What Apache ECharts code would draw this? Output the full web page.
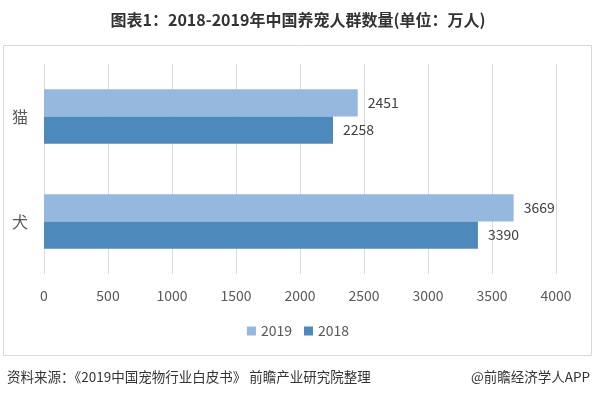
<!DOCTYPE html>
<html>
<head>
<meta charset="utf-8">
<script src="https://cdn.jsdelivr.net/npm/echarts@6/dist/echarts.min.js"></script>
<style>
  html, body { margin: 0; padding: 0; background: #fff; }
  #chart { width: 596px; height: 398px; }
</style>
</head>
<body>
<div id="chart"></div>
<script>
// 数据
const categories = ['猫', '犬'];
const seriesNames = ['2019', '2018'];
const values2019 = [2451, 3669];
const values2018 = [2258, 3390];
const xTicks = [0, 500, 1000, 1500, 2000, 2500, 3000, 3500, 4000];

const chart = echarts.init(document.getElementById('chart'));
const font = '"Microsoft YaHei", "Noto Sans CJK SC", sans-serif';

chart.setOption({
  backgroundColor: '#fff',
  animation: false,
  title: {
    text: '图表1：2018-2019年中国养宠人群数量(单位：万人)',
    left: 'center',
    top: 7,
    textStyle: { fontSize: 16, fontWeight: 'bold', color: '#333', fontFamily: font }
  },
  legend: {
    data: seriesNames,
    bottom: 55,
    left: 'center',
    itemWidth: 9,
    itemHeight: 9,
    itemGap: 12,
    icon: 'rect',
    textStyle: { fontSize: 14, color: '#595959', fontFamily: font }
  },
  grid: { left: 44, right: 40, top: 64, bottom: 124, containLabel: false },
  xAxis: {
    type: 'value',
    min: xTicks[0],
    max: xTicks[xTicks.length - 1],
    interval: 500,
    axisLine: { show: false },
    axisTick: { show: false },
    splitLine: { lineStyle: { color: '#d9d9d9' } },
    axisLabel: {
      fontSize: 14, color: '#595959', margin: 15, fontFamily: font,
      formatter: v => String(v)
    }
  },
  yAxis: {
    type: 'category',
    data: categories,
    inverse: true,
    axisLine: { show: false },
    axisTick: { show: false },
    axisLabel: { fontSize: 16, color: '#595959', margin: 16, fontFamily: font }
  },
  series: [
    {
      name: '2019',
      type: 'bar',
      data: values2019,
      barGap: '0%',
      barCategoryGap: '48%',
      itemStyle: { color: '#97b8de' },
      label: { show: true, position: 'right', distance: 10, fontSize: 14, color: '#404040', fontFamily: font }
    },
    {
      name: '2018',
      type: 'bar',
      data: values2018,
      barGap: '0%',
      barCategoryGap: '48%',
      itemStyle: { color: '#4e89bc' },
      label: { show: true, position: 'right', distance: 10, fontSize: 14, color: '#404040', fontFamily: font }
    }
  ],
  graphic: [
    {
      type: 'rect',
      shape: { x: 3.5, y: 45.5, width: 588, height: 310 },
      style: { fill: 'none', stroke: '#d9d9d9', lineWidth: 1 },
      z: -1
    },
    {
      type: 'text',
      left: 7,
      top: 370,
      style: { text: '资料来源：《2019中国宠物行业白皮书》 前瞻产业研究院整理', fontSize: 13.5, fill: '#333', fontFamily: font }
    },
    {
      type: 'text',
      right: 6,
      top: 370,
      style: { text: '@前瞻经济学人APP', fontSize: 13.5, fill: '#333', fontFamily: font }
    }
  ]
});
</script>
</body>
</html>
